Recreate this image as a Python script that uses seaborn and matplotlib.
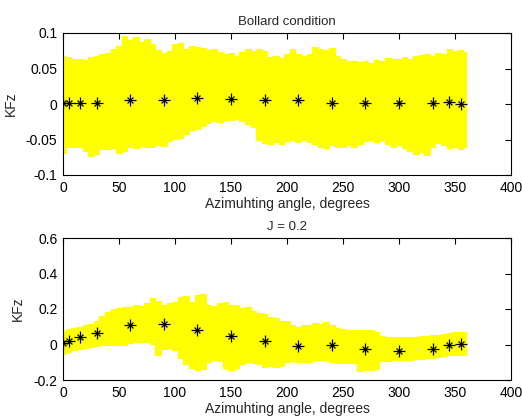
import numpy as np
import pandas as pd
import seaborn as sns
import matplotlib.pyplot as plt

# grid for the envelope of the raw (noisy) signal, degrees
band_angle = np.arange(0, 365, 5)

# Bollard condition: envelope of raw KFz
bollard_upper = [0.067, 0.066, 0.063, 0.064, 0.062, 0.066, 0.068, 0.070, 0.072, 0.078,
                 0.082, 0.096, 0.090, 0.094, 0.088, 0.092, 0.084, 0.076, 0.072, 0.074,
                 0.084, 0.086, 0.078, 0.082, 0.080, 0.079, 0.076, 0.078, 0.073, 0.070,
                 0.072, 0.068, 0.073, 0.077, 0.075, 0.078, 0.074, 0.066, 0.068, 0.065,
                 0.070, 0.077, 0.070, 0.068, 0.070, 0.080, 0.078, 0.076, 0.079, 0.068,
                 0.064, 0.060, 0.061, 0.059, 0.061, 0.058, 0.062, 0.060, 0.065, 0.063,
                 0.064, 0.066, 0.063, 0.068, 0.069, 0.071, 0.068, 0.072, 0.070, 0.077,
                 0.074, 0.076, 0.073]
bollard_lower = [-0.069, -0.060, -0.061, -0.060, -0.066, -0.073, -0.070, -0.063, -0.064, -0.062,
                 -0.069, -0.066, -0.060, -0.062, -0.059, -0.061, -0.060, -0.058, -0.059, -0.052,
                 -0.049, -0.048, -0.042, -0.037, -0.035, -0.031, -0.027, -0.024, -0.026, -0.022,
                 -0.023, -0.021, -0.024, -0.028, -0.032, -0.050, -0.055, -0.057, -0.053, -0.056,
                 -0.052, -0.050, -0.054, -0.051, -0.053, -0.057, -0.060, -0.062, -0.058, -0.061,
                 -0.060, -0.058, -0.061, -0.056, -0.052, -0.050, -0.053, -0.050, -0.056, -0.060,
                 -0.058, -0.062, -0.066, -0.070, -0.068, -0.072, -0.060, -0.055, -0.058, -0.062,
                 -0.060, -0.063, -0.061]

# J = 0.2: envelope of raw KFz
j02_upper = [0.075, 0.085, 0.095, 0.100, 0.108, 0.118, 0.135, 0.160, 0.185, 0.200,
             0.205, 0.212, 0.210, 0.220, 0.215, 0.235, 0.260, 0.245, 0.225, 0.232,
             0.238, 0.270, 0.276, 0.240, 0.280, 0.285, 0.220, 0.215, 0.235, 0.240,
             0.225, 0.220, 0.205, 0.210, 0.190, 0.180, 0.170, 0.155, 0.150, 0.135,
             0.130, 0.108, 0.100, 0.108, 0.112, 0.120, 0.118, 0.125, 0.110, 0.092,
             0.085, 0.082, 0.080, 0.084, 0.080, 0.082, 0.070, 0.050, 0.045, 0.043,
             0.042, 0.044, 0.045, 0.044, 0.046, 0.050, 0.052, 0.055, 0.058, 0.065,
             0.070, 0.072, 0.068]
j02_lower = [-0.055, -0.045, -0.032, -0.025, -0.018, -0.013, -0.010, -0.005, -0.003, -0.002,
             -0.004, 0.000, 0.010, 0.015, 0.014, 0.012, 0.005, -0.060, -0.025, -0.020,
             -0.030, -0.075, -0.110, -0.135, -0.145, -0.140, -0.100, -0.090, -0.095, -0.130,
             -0.145, -0.130, -0.110, -0.100, -0.105, -0.110, -0.125, -0.122, -0.128, -0.120,
             -0.100, -0.095, -0.098, -0.096, -0.100, -0.090, -0.086, -0.088, -0.100, -0.105,
             -0.104, -0.106, -0.104, -0.150, -0.145, -0.142, -0.140, -0.092, -0.093, -0.090,
             -0.088, -0.087, -0.086, -0.084, -0.082, -0.076, -0.074, -0.072, -0.066, -0.060,
             -0.058, -0.057, -0.058]

# mean values (asterisks)
mean_angle = [0, 5, 15, 30, 60, 90, 120, 150, 180, 210, 240, 270, 300, 330, 345, 355]
bollard_mean = [0.002, 0.002, 0.002, 0.002, 0.0056, 0.0056, 0.009, 0.0065,
                0.0056, 0.0056, 0.002, 0.002, 0.001, 0.001, 0.003, -0.0005]
j02_mean = [0.010, 0.020, 0.040, 0.062, 0.110, 0.116, 0.082, 0.050,
            0.017, -0.006, -0.004, -0.023, -0.034, -0.023, -0.004, 0.004]

sns.set_style('white')
plt.rcParams['font.family'] = ['Liberation Sans', 'DejaVu Sans']

fig = plt.figure(figsize=(5.22, 4.17), dpi=100)
ax1 = fig.add_axes([63 / 522, 1 - 175 / 417, 448 / 522, 142 / 417])
ax2 = fig.add_axes([63 / 522, 1 - 380 / 417, 448 / 522, 142 / 417])

panels = [
    (ax1, bollard_upper, bollard_lower, bollard_mean, 'Bollard condition',
     [-0.1, -0.05, 0, 0.05, 0.1], ['-0.1', '-0.05', '0', '0.05', '0.1']),
    (ax2, j02_upper, j02_lower, j02_mean, 'J = 0.2',
     [-0.2, 0, 0.2, 0.4, 0.6], ['-0.2', '0', '0.2', '0.4', '0.6']),
]

for ax, upper, lower, mean, title, yticks, ylabels in panels:
    ax.fill_between(band_angle, lower, upper, step='mid', color='#ffff00',
                    linewidth=0.8, edgecolor='#ffff00', zorder=1)
    df = pd.DataFrame({'angle': mean_angle, 'kfz': mean})
    # MATLAB-style asterisk: a plus with shorter diagonals and a dot
    sns.scatterplot(data=df, x='angle', y='kfz', ax=ax, marker='+',
                    color='black', s=70, linewidth=0.9, zorder=3)
    sns.scatterplot(data=df, x='angle', y='kfz', ax=ax, marker='x',
                    color='black', s=18, linewidth=0.9, zorder=3)
    ax.set_xlim(0, 400)
    ax.set_ylim(yticks[0], yticks[-1])
    ax.set_xticks(range(0, 401, 50))
    ax.set_yticks(yticks)
    ax.set_yticklabels(ylabels)
    ax.tick_params(direction='in', top=True, right=True, length=4, width=0.8,
                   labelsize=10, pad=4, colors='black')
    for sp in ax.spines.values():
        sp.set_color('black')
        sp.set_linewidth(0.8)
    ax.set_title(title, fontsize=9.5, pad=6)
    ax.set_xlabel('Azimuhting angle, degrees', fontsize=10, labelpad=2)
    ax.set_ylabel('KFz', fontsize=10, labelpad=6)

plt.savefig('out.png', dpi=100)
